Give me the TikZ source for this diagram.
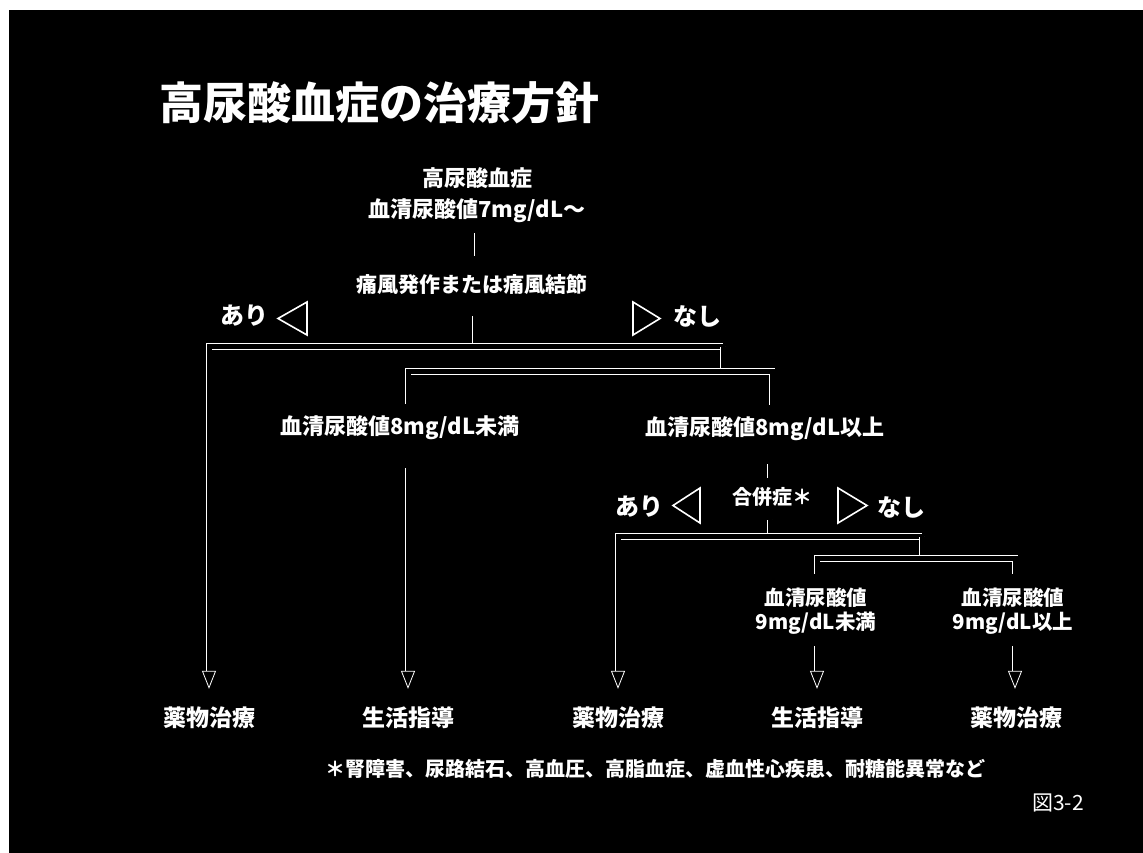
\documentclass[tikz,border=0pt]{standalone}
\usepackage{fontspec}
\newfontfamily\jp{Noto Sans CJK JP}
\usetikzlibrary{arrows.meta}
\tikzset{
  txt/.style={text=white, inner sep=0pt, align=center, font=\jp\bfseries\fontsize{22}{31}\selectfont},
  big/.style={txt, font=\jp\bfseries\fontsize{44}{50}\selectfont},
  yn/.style={txt, font=\jp\bfseries\fontsize{24}{28}\selectfont},
  sub/.style={txt, font=\jp\bfseries\fontsize{20.5}{23.5}\selectfont},
  res/.style={txt, font=\jp\bfseries\fontsize{23}{28}\selectfont},
  small/.style={txt, font=\jp\bfseries\fontsize{20}{24}\selectfont},
  conn/.style={draw=white, line width=0.8pt, double=black, double distance=5pt},
  arr/.style={-{Triangle[open,length=18pt,width=14pt]}},
  tri/.style={draw=white, line width=1.6pt, line join=miter}
}
\begin{document}
\begin{tikzpicture}[x=1pt, y=-1pt]
    \useasboundingbox (0,0) rectangle (1143,852);
    \fill[white] (0,0) rectangle (1143,852);
    \fill[black] (9,10) rectangle (1160,870);

    \node [big] (title) at (379,103) {高尿酸血症の治療方針};
    \node [txt] (hua) at (477,195) {高尿酸血症\\血清尿酸値7mg/dL～};
    \node [txt, font=\jp\bfseries\fontsize{21}{26}\selectfont] (gout) at (472,284) {痛風発作または痛風結節};
    \node [yn] (yes1) at (244,316) {あり};
    \node [yn] (no1) at (697,316) {なし};
    \node [txt] (u8l) at (400,428) {血清尿酸値8mg/dL未満};
    \node [txt] (u8h) at (765,429) {血清尿酸値8mg/dL以上};
    \node [small] (comp) at (772,497) {合併症＊};
    \node [yn] (yes2) at (639,507) {あり};
    \node [yn] (no2) at (901,507) {なし};
    \node [sub] (u9l) at (816,611) {血清尿酸値\\9mg/dL未満};
    \node [sub] (u9h) at (1013,611) {血清尿酸値\\9mg/dL以上};
    \node [res] (drug1) at (209,718) {薬物治療};
    \node [res] (life1) at (408,718) {生活指導};
    \node [res] (drug2) at (618,718) {薬物治療};
    \node [res] (life2) at (817,718) {生活指導};
    \node [res] (drug3) at (1016,718) {薬物治療};
    \node [small] (note) at (655,769) {＊腎障害、尿路結石、高血圧、高脂血症、虚血性心疾患、耐糖能異常など};
    \node [txt, font=\jp\fontsize{21}{24}\selectfont] (fig) at (1058,803) {図3-2};

    % yes / no marks
    \draw[tri] (278,318.5) -- (307,302) -- (307,335) -- cycle;
    \draw[tri] (660,318.5) -- (633,302) -- (633,335) -- cycle;
    \draw[tri] (673,505.5) -- (700,488) -- (700,523) -- cycle;
    \draw[tri] (867,505.5) -- (838,488) -- (838,523) -- cycle;

    % branch points
    \coordinate (l1l) at (209,346.5);
    \coordinate (l1m) at (475,346.5);
    \coordinate (l1r) at (723,346.5);
    \coordinate (l2l) at (408,371.5);
    \coordinate (l2r) at (772,371.5);
    \coordinate (l3l) at (618,536.5);
    \coordinate (l3m) at (770,536.5);
    \coordinate (l3r) at (922,536.5);
    \coordinate (l4l) at (817,558.5);
    \coordinate (l4r) at (1015,558.5);

    \draw[conn, shorten <=10pt, shorten >=18pt] (hua.south) -- (hua.south |- gout.north);
    \draw[conn, shorten <=22pt] (l1m |- gout.south) -- (l1m);
    \draw[conn, arr, shorten >=18pt] (l1r) -- (l1l) -- (l1l |- drug1.north);
    \draw[conn] (l1r) -- (l1r |- l2l);
    \draw[conn, shorten <=12pt, shorten >=12pt] (l2l |- u8l.north) -- (l2l) -- (l2r) -- (l2r |- u8h.north);
    \draw[conn, arr, shorten <=28pt, shorten >=18pt] (l2l |- u8l.south) -- (l2l |- life1.north);
    \draw[conn, shorten <=23pt, shorten >=9pt] (l3m |- u8h.south) -- (l3m |- comp.north);
    \draw[conn, shorten <=13pt] (l3m |- comp.south) -- (l3m);
    \draw[conn, arr, shorten >=18pt] (l3r) -- (l3l) -- (l3l |- drug2.north);
    \draw[conn] (l3r) -- (l3r |- l4l);
    \draw[conn, shorten <=14pt, shorten >=14pt] (l4l |- u9l.north) -- (l4l) -- (l4r) -- (l4r |- u9h.north);
    \draw[conn, arr, shorten <=12pt, shorten >=18pt] (l4l |- u9l.south) -- (l4l |- life2.north);
    \draw[conn, arr, shorten <=12pt, shorten >=18pt] (l4r |- u9h.south) -- (l4r |- drug3.north);
\end{tikzpicture}
\end{document}
